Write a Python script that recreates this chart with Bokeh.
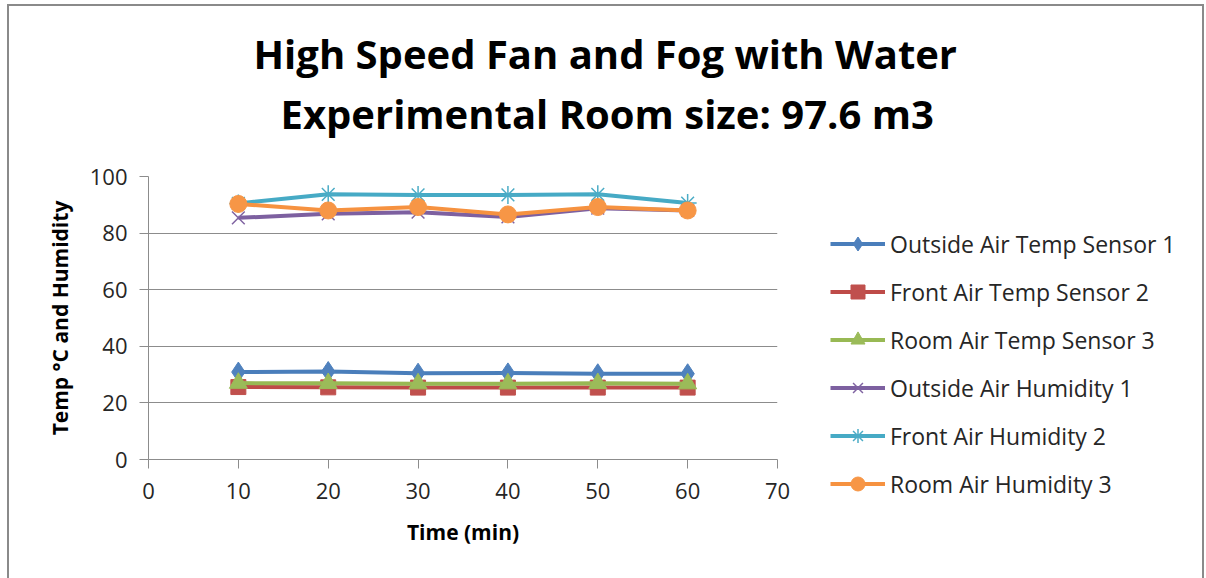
from bokeh.plotting import figure
from bokeh.models import Range1d, Legend, LegendItem, FixedTicker, Title
from bokeh.embed import file_html
from bokeh.resources import INLINE

# ---- data ----
time_min = [10, 20, 30, 40, 50, 60]
outside_air_temp_1 = [30.9, 31.1, 30.5, 30.6, 30.3, 30.3]
front_air_temp_2 = [25.6, 25.5, 25.4, 25.4, 25.4, 25.4]
room_air_temp_3 = [27.0, 26.9, 26.8, 26.8, 26.9, 26.8]
outside_air_hum_1 = [85.4, 86.8, 87.4, 85.7, 88.8, 88.0]
front_air_hum_2 = [90.5, 93.7, 93.5, 93.5, 93.7, 90.6]
room_air_hum_3 = [90.3, 88.0, 89.2, 86.6, 89.2, 88.0]

series_names = ["Outside Air Temp Sensor 1", "Front Air Temp Sensor 2", "Room Air Temp Sensor 3",
                "Outside Air Humidity 1", "Front Air Humidity 2", "Room Air Humidity 3"]
series_values = [outside_air_temp_1, front_air_temp_2, room_air_temp_3,
                 outside_air_hum_1, front_air_hum_2, room_air_hum_3]
x_ticks = [0, 10, 20, 30, 40, 50, 60, 70]
y_ticks = [0, 20, 40, 60, 80, 100]
title_lines = ["High Speed Fan and Fog with Water", "Experimental Room size: 97.6 m3"]

# ---- styles ----
line_colors = ["#4A7EBB", "#BE4B48", "#98B954", "#7D60A0", "#46AAC5", "#F69240"]
marker_colors = ["#4F81BD", "#C0504D", "#9BBB59", "#8064A2", "#4BACC6", "#F79646"]
markers = ["diamond", "square", "triangle", "x", "asterisk", "circle"]
marker_sizes = [20, 15, 18, 18, 18, 17]
marker_lw = [1, 1, 1, 1.5, 1.5, 1]

FONT = "Open Sans"
TXT = "#262626"
GRID = "#8C8C8C"

p = figure(frame_width=629, frame_height=283, output_backend="svg", toolbar_location=None,
           x_range=Range1d(0, 70), y_range=Range1d(0, 100),
           min_border_left=148, min_border_right=0,
           min_border_top=176, min_border_bottom=119)
p.outline_line_color = None
p.background_fill_color = "white"
p.border_fill_color = "white"
p.stylesheets = [":host { position: relative; overflow: visible; } "
                 ":host::after { content: ''; position: absolute; left: 7px; top: 4px; "
                 "width: 1197px; height: 700px; border: 2px solid #8A8A8A; "
                 "box-sizing: border-box; pointer-events: none; }"]

p.xgrid.grid_line_color = None
p.ygrid.grid_line_color = GRID
p.ygrid.grid_line_width = 1

p.xaxis.ticker = FixedTicker(ticks=x_ticks)
p.yaxis.ticker = FixedTicker(ticks=y_ticks)
for ax in (p.xaxis, p.yaxis):
    ax.axis_line_color = GRID
    ax.major_tick_line_color = GRID
    ax.major_tick_out = 9
    ax.major_tick_in = 0
    ax.minor_tick_line_color = None
    ax.major_label_text_font = FONT
    ax.major_label_text_font_size = "22px"
    ax.major_label_text_color = TXT
    ax.axis_label_text_font = FONT
    ax.axis_label_text_font_size = "21px"
    ax.axis_label_text_font_style = "bold"
    ax.axis_label_text_color = "black"
p.xaxis.axis_label = "Time (min)"
p.yaxis.axis_label = "Temp °C and Humidity"
p.xaxis.major_label_standoff = 14
p.yaxis.major_label_standoff = 12
p.xaxis.axis_label_standoff = 16
p.yaxis.axis_label_standoff = 13

items = []
for name, vals, lc, mc, mk, ms, mlw in zip(series_names, series_values, line_colors,
                                           marker_colors, markers, marker_sizes, marker_lw):
    r1 = p.line(time_min, vals, line_color=lc, line_width=4)
    r2 = p.scatter(time_min, vals, marker=mk, size=ms, fill_color=mc, line_color=mc, line_width=mlw)
    items.append(LegendItem(label=name, renderers=[r1, r2]))

legend = Legend(items=items, location=(53, -42),
                glyph_width=55, glyph_height=35, label_height=35, spacing=13,
                label_standoff=5, padding=0, margin=0,
                label_text_font=FONT, label_text_font_size="23px", label_text_color=TXT,
                border_line_color=None, background_fill_alpha=0)
p.add_layout(legend, "right")

p.title.text = ""
# gap between the plot area and the two title lines
p.add_layout(Title(text=" ", text_font_size="1px", standoff=33), "above")
p.add_layout(Title(text=title_lines[1], align="left", offset=132, standoff=0,
                   text_font=FONT, text_font_size="40px", text_font_style="bold",
                   text_color="black"), "above")
p.add_layout(Title(text=title_lines[0], align="left", offset=105, standoff=6,
                   text_font=FONT, text_font_size="40px", text_font_style="bold",
                   text_color="black"), "above")

open("out.html", "w").write(file_html(p, INLINE))
